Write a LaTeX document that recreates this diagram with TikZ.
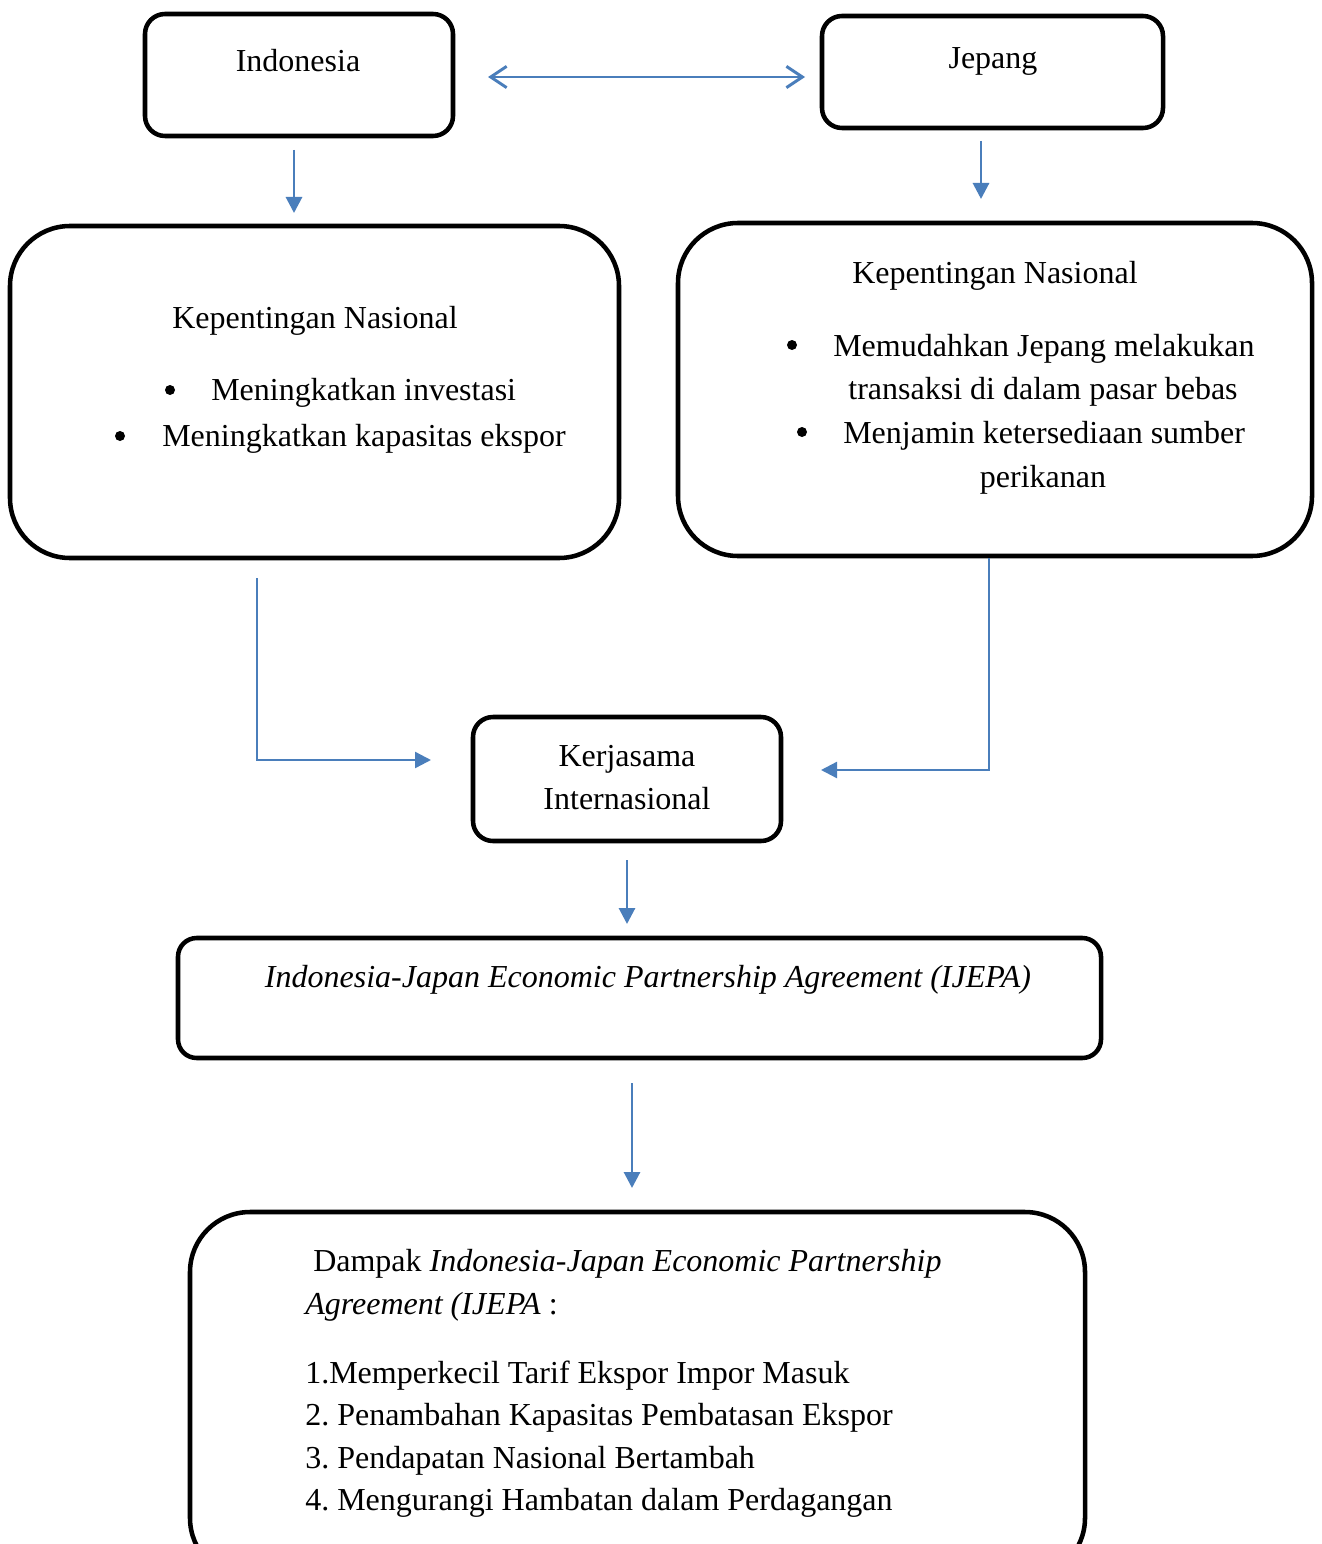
\documentclass[tikz,border=0pt]{standalone}
\usepackage{fontspec}
\setmainfont{Liberation Serif}
\usetikzlibrary{arrows.meta}
\definecolor{conn}{RGB}{74,126,187}
\frenchspacing
\begin{document}
\begin{tikzpicture}[x=0.75pt,y=-0.75pt,
  box/.style={draw=black,line width=3.4pt,rounded corners=#1,inner sep=0pt},
  txt/.style={anchor=base,inner sep=0pt,font=\fontsize{24}{32}\selectfont},
  txtw/.style={anchor=base west,inner sep=0pt,font=\fontsize{24}{32}\selectfont},
  bul/.style={circle,fill=black,inner sep=0pt,minimum size=7.5pt},
  conline/.style={draw=conn,line width=2.2pt},
  carrow/.style={conline,-{Triangle[length=12pt,width=12pt]}},
  thinL/.style={draw=conn,line width=1.8pt,-{Triangle[length=12pt,width=12pt]}},
  darrow/.style={conline,{Straight Barb[length=12pt,width=16pt,line width=2.2pt]}-{Straight Barb[length=12pt,width=16pt,line width=2.2pt]}}
]
\clip (0,0) rectangle (1321,1544);
\fill[white] (0,0) rectangle (1321,1544);

% boxes
\node[box=15pt,minimum width=231pt,minimum height=91.5pt] (indo) at (299,75) {};
\node[box=15pt,minimum width=255.75pt,minimum height=84pt] (jep) at (992.5,72) {};
\node[box=45pt,minimum width=456.75pt,minimum height=249pt] (knl) at (314.5,392) {};
\node[box=45pt,minimum width=475.5pt,minimum height=249.75pt] (knr) at (995,389.5) {};
\node[box=15pt,minimum width=231pt,minimum height=93pt] (kerja) at (627,779) {};
\node[box=14pt,minimum width=692.25pt,minimum height=90pt] (ijepa) at (639.5,998) {};
\node[box=45pt,minimum width=671.25pt,minimum height=274.5pt] (dampak) at (637.5,1395) {};

% texts
\node[txt] (tindo) at (298,72) {Indonesia};
\node[txt] (tjep) at (993,69) {Jepang};

\node[txt] (tknl) at (315,329) {Kepentingan Nasional};
\node[bul] (bl1) at (170,390) {};
\node[txtw] (tl1) at (211,400) {Meningkatkan investasi};
\node[bul] (bl2) at (120,436) {};
\node[txtw] (tl2) at (162,446) {Meningkatkan kapasitas ekspor};

\node[txt] (tknr) at (995,284) {Kepentingan Nasional};
\node[bul] (br1) at (792,345) {};
\node[txtw] (tr1) at (833,356) {Memudahkan Jepang melakukan};
\node[txt] (tr1b) at (1043,399) {transaksi di dalam pasar bebas};
\node[bul] (br2) at (802,432) {};
\node[txtw] (tr2) at (843,443) {Menjamin ketersediaan sumber};
\node[txt] (tr2b) at (1043,487) {perikanan};

\node[txt] (tk1) at (627,766) {Kerjasama};
\node[txt] (tk2) at (627,809) {Internasional};

\node[txt] (tij) at (648,987) {\itshape Indonesia-Japan Economic Partnership Agreement (IJEPA)};

\node[txtw] (td1) at (313,1271) {Dampak \textit{Indonesia-Japan Economic Partnership}};
\node[txtw] (td2) at (305,1314) {\textit{Agreement (IJEPA} :};
\node[txtw] (td3) at (305,1383) {1.Memperkecil Tarif Ekspor Impor Masuk};
\node[txtw] (td4) at (305,1425) {2. Penambahan Kapasitas Pembatasan Ekspor};
\node[txtw] (td5) at (305,1468) {3. Pendapatan Nasional Bertambah};
\node[txtw] (td6) at (305,1510) {4. Mengurangi Hambatan dalam Perdagangan};

% connector endpoints
\coordinate (dA) at (488,77);
\coordinate (dB) at (805,77);
\coordinate (a1s) at (294,150);
\coordinate (a1e) at (294,213);
\coordinate (a2s) at (981,141);
\coordinate (a2e) at (981,199);
\coordinate (l1s) at (257,578);
\coordinate (l1e) at (431,760);
\coordinate (l2s) at (989,558);
\coordinate (l2e) at (821,770);
\coordinate (a3s) at (627,860);
\coordinate (a3e) at (627,924);
\coordinate (a4s) at (632,1083);
\coordinate (a4e) at (632,1188);

\draw[darrow] (dA) -- (dB);
\draw[carrow] (a1s) -- (a1e);
\draw[carrow] (a2s) -- (a2e);
\draw[thinL] (l1s) |- (l1e);
\draw[thinL] (l2s) |- (l2e);
\draw[carrow] (a3s) -- (a3e);
\draw[carrow] (a4s) -- (a4e);
\end{tikzpicture}
\end{document}
